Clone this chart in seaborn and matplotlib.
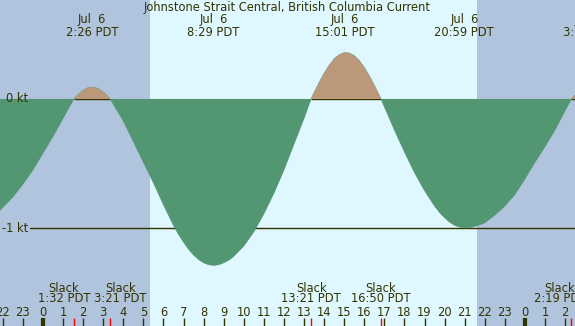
import numpy as np
import matplotlib
matplotlib.use('Agg')
import matplotlib.pyplot as plt
import matplotlib.transforms as mtransforms
import seaborn as sns


# Current data (hours from midnight Jul 6, knots)
hours = [-2.5, -2.25, -2.0, -1.75, -1.5, -1.25, -1.0, -0.5, 0.0, 0.5, 1.0,
         1.533, 1.75, 2.0, 2.25, 2.5, 2.75, 3.0, 3.25,
         3.35, 3.5, 4.0, 4.5, 5.0, 5.5, 6.0, 6.5, 6.75, 7.0, 7.25, 7.5, 7.75, 8.0, 8.25, 8.5,
         8.75, 9.0, 9.25, 9.5, 9.75, 10.0, 10.25, 10.5, 11.0, 11.5, 12.0, 12.5, 13.0,
         13.35, 13.5, 13.75, 14.0, 14.25, 14.5, 14.75, 15.0, 15.25, 15.5, 15.75, 16.0, 16.25, 16.5, 16.75,
         16.833, 17.0, 17.5, 18.0, 18.5, 19.0, 19.5, 19.75, 20.0, 20.25, 20.5, 20.75, 21.0,
         21.25, 21.5, 21.75, 22.0, 22.25, 22.5, 23.0, 23.5, 24.0, 24.5, 25.0, 25.5, 26.0,
         26.317, 26.5]
current = [-0.91, -0.88, -0.84, -0.80, -0.76, -0.71, -0.66, -0.55, -0.42, -0.29, -0.15,
           0.0, 0.034, 0.067, 0.088, 0.093, 0.080, 0.053, 0.016,
           0.0, -0.04, -0.17, -0.33, -0.49, -0.65, -0.82, -0.98, -1.05, -1.11, -1.165, -1.21, -1.245, -1.27, -1.285, -1.29,
           -1.285, -1.27, -1.25, -1.22, -1.18, -1.14, -1.085, -1.03, -0.89, -0.73, -0.55, -0.35, -0.15,
           0.0, 0.049, 0.127, 0.199, 0.261, 0.31, 0.343, 0.359, 0.356, 0.336, 0.298, 0.245, 0.180, 0.107, 0.027,
           0.0, -0.06, -0.24, -0.41, -0.57, -0.71, -0.83, -0.88, -0.92, -0.955, -0.98, -0.993, -1.0,
           -0.997, -0.99, -0.975, -0.96, -0.93, -0.90, -0.83, -0.74, -0.62, -0.49, -0.37, -0.24, -0.09,
           0.0, 0.03]

# Max current events (top labels)
max_times = [2.433, 8.483, 15.017, 20.983, 27.2]
max_dates = ['Jul  6', 'Jul  6', 'Jul  6', 'Jul  6', 'Jul  7']
max_labels = ['2:26 PDT', '8:29 PDT', '15:01 PDT', '20:59 PDT', '3:05 PDT']

# Slack events (bottom labels)
slack_times = [1.533, 3.35, 13.35, 16.833, 26.317]
slack_labels = ['1:32 PDT', '3:21 PDT', '13:21 PDT', '16:50 PDT', '2:19 PDT']
slack_nudge = [-0.49, 0.49, 0.0, 0.0, -0.57]

# Flood periods (between slacks)
flood_periods = [(1.533, 3.35), (13.35, 16.833), (26.317, 26.6)]

sunrise = 5.33
sunset = 21.61

title = 'Johnstone Strait Central, British Columbia Current'

night_color = '#b0c4de'
day_color = '#dff7fe'
ebb_color = '#529672'
flood_color = '#bc987a'
ink = '#333300'

sns.set_style('white')
plt.rcParams['font.family'] = ['DejaVu Sans']

fig = plt.figure(figsize=(5.75, 3.26), dpi=100)
ax = fig.add_axes([0, 0, 1, 1])

x0, x1 = -2.141, 26.494
ax.set_xlim(x0, x1)
ax.set_ylim(-1.760, 0.767)

# Night / day background
ax.axvspan(x0, sunrise, color=night_color, lw=0, zorder=0)
ax.axvspan(sunrise, sunset, color=day_color, lw=0, zorder=0)
ax.axvspan(sunset, x1, color=night_color, lw=0, zorder=0)

# Reference lines
ax.axhline(-1, xmin=30 / 575, xmax=1, color=ink, lw=1, zorder=1)
for a, b in flood_periods:
    ax.hlines(0, a, b, color=ink, lw=1, zorder=1)

h = np.array(hours)
c = np.array(current)
sns.lineplot(x=h, y=c, color=ebb_color, lw=0.5, ax=ax, zorder=1)
ax.fill_between(h, c, 0, where=c <= 0, interpolate=True, color=ebb_color, lw=0, zorder=2)
ax.fill_between(h, c, 0, where=c >= 0, interpolate=True, color=flood_color, lw=0, zorder=2)

trans = mtransforms.blended_transform_factory(ax.transData, ax.transAxes)
fs = 8.3

def fy(py):
    return 1 - py / 326

ax.text(0.5, fy(7), title, transform=ax.transAxes, ha='center', va='center',
        fontsize=fs, color=ink, zorder=5)
for t, d, lab in zip(max_times, max_dates, max_labels):
    ax.text(t, fy(20), d, transform=trans, ha='center', va='center', fontsize=fs, color=ink, zorder=5)
    ax.text(t, fy(32), lab, transform=trans, ha='center', va='center', fontsize=fs, color=ink, zorder=5)

for t, lab, n in zip(slack_times, slack_labels, slack_nudge):
    ax.text(t + n, fy(288), 'Slack', transform=trans, ha='center', va='center', fontsize=fs, color=ink, zorder=5)
    ax.text(t + n, fy(299), lab, transform=trans, ha='center', va='center', fontsize=fs, color=ink, zorder=5)

# Hour ticks
hour_ticks = list(range(-2, 27))
for hr in hour_ticks:
    ax.text(hr, fy(312), str(hr % 24), transform=trans, ha='center', va='center',
            fontsize=fs, color=ink, zorder=5)
    lw = 3 if hr % 24 == 0 else 1
    ax.vlines(hr, 0, fy(318), transform=trans, color=ink, lw=lw, zorder=5)
ax.vlines(slack_times, 0, fy(318), transform=trans, color='red', lw=1, zorder=5)

# Level labels
ax.text(28 / 575, fy(99), '0 kt', transform=ax.transAxes, ha='right', va='center', fontsize=fs, color=ink, zorder=5)
ax.text(28 / 575, fy(228), '-1 kt', transform=ax.transAxes, ha='right', va='center', fontsize=fs, color=ink, zorder=5)

ax.set_axis_off()
fig.savefig('out.png', dpi=100)
